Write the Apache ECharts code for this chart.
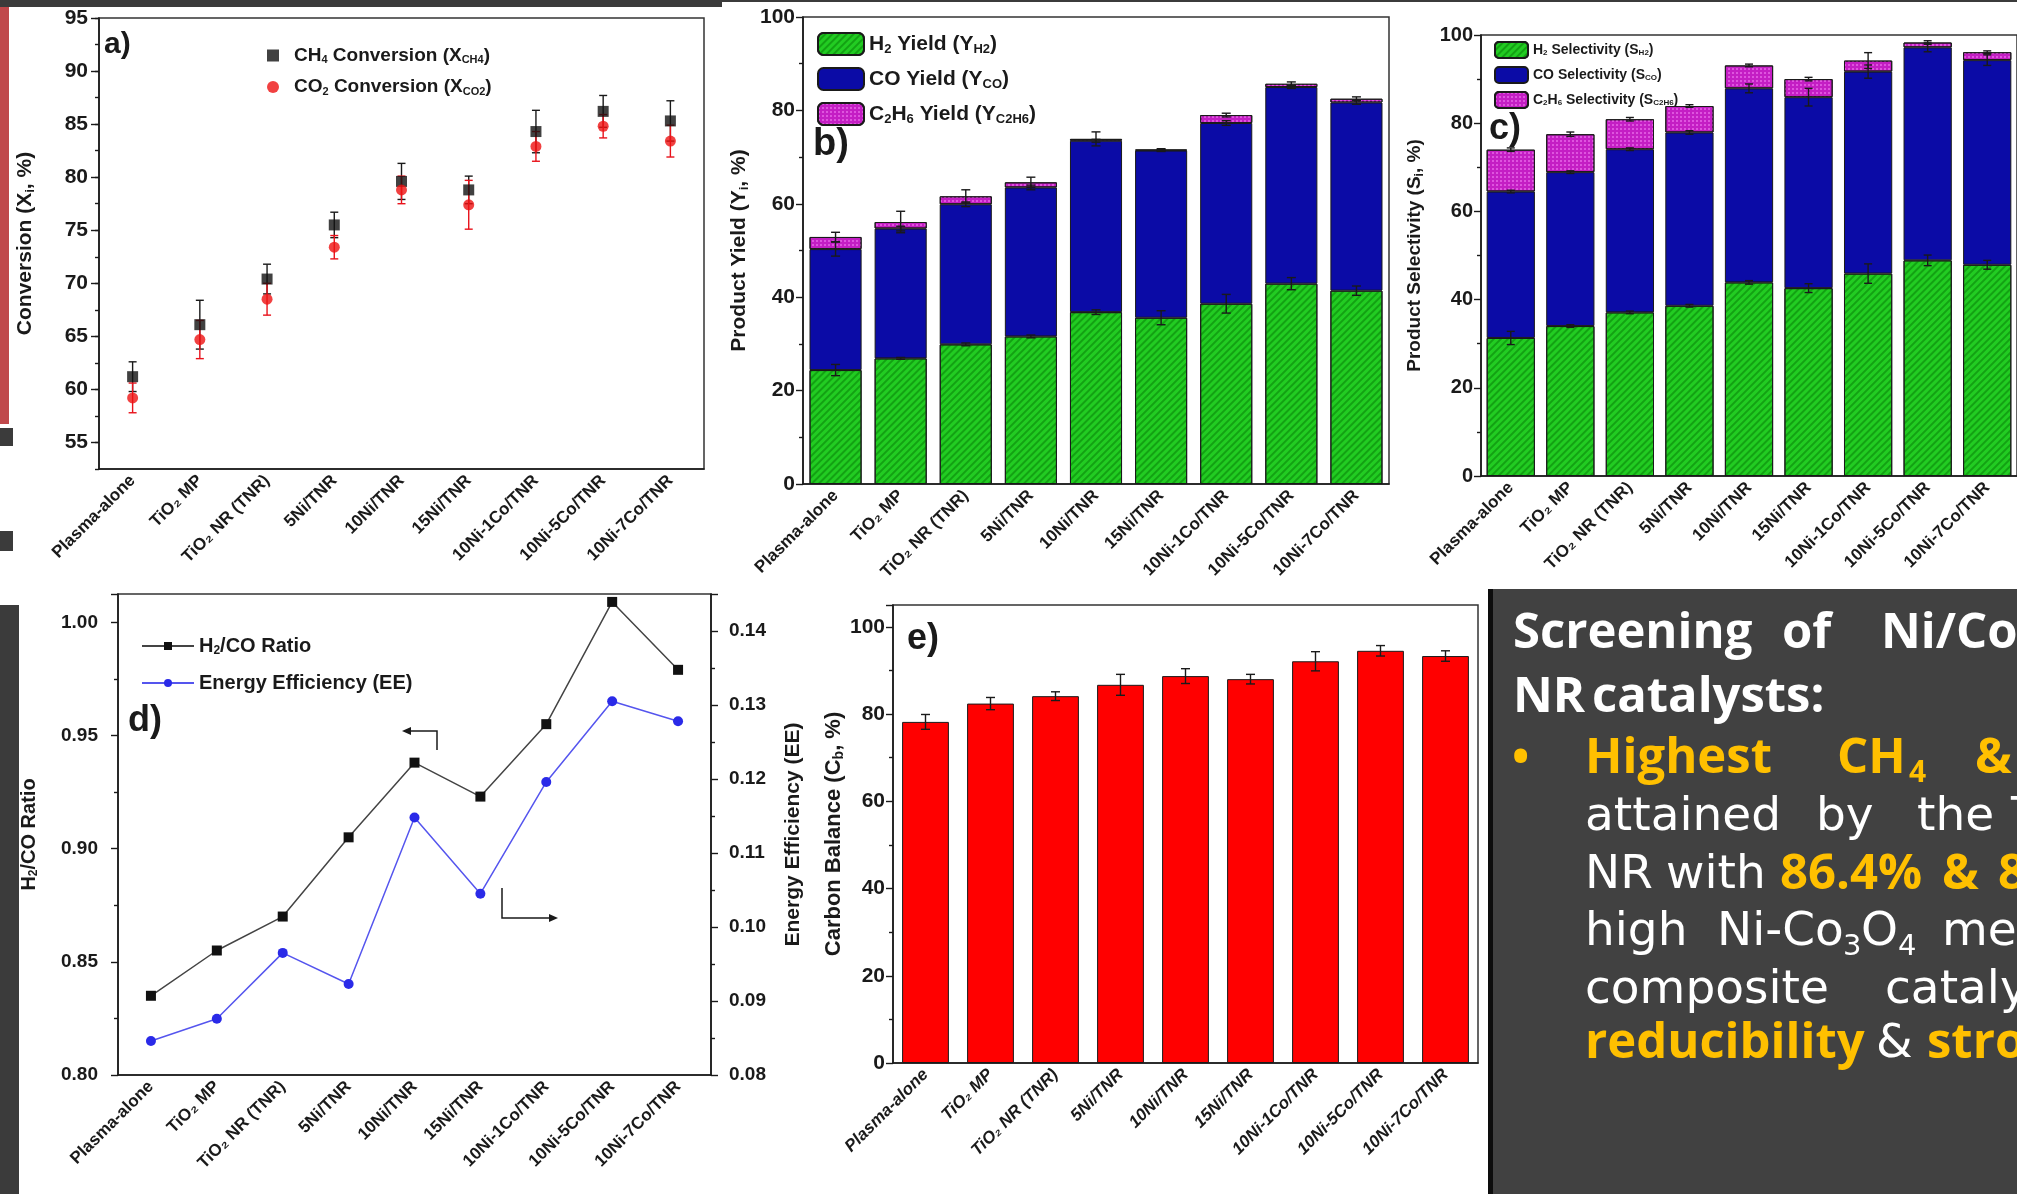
<!DOCTYPE html>
<html><head><meta charset="utf-8">
<script src="https://cdn.jsdelivr.net/npm/echarts@6/dist/echarts.min.js"></script>
<style>html,body{margin:0;padding:0;background:#fff;overflow:hidden}#c{width:2017px;height:1194px}</style>
</head><body><div id="c"></div>
<script>
// ---------------- data ----------------
const categories = ['Plasma-alone','TiO₂ MP','TiO₂ NR (TNR)','5Ni/TNR','10Ni/TNR','15Ni/TNR','10Ni-1Co/TNR','10Ni-5Co/TNR','10Ni-7Co/TNR'];
// (a) conversion
const ch4Conv    = [61.2, 66.1, 70.4, 75.5, 79.6, 78.8, 84.3, 86.2, 85.3];
const ch4ConvErr = [1.4, 2.3, 1.4, 1.2, 1.7, 1.3, 2.0, 1.5, 1.9];
const co2Conv    = [59.2, 64.7, 68.5, 73.4, 78.8, 77.4, 82.9, 84.8, 83.4];
const co2ConvErr = [1.4, 1.8, 1.5, 1.1, 1.3, 2.3, 1.4, 1.1, 1.5];
const convTicks  = [55, 60, 65, 70, 75, 80, 85, 90, 95];
// (b) product yield
const h2Yield      = [24.4, 26.9, 29.9, 31.6, 36.8, 35.6, 38.6, 42.9, 41.4];
const coYield      = [25.9, 27.8, 30.0, 31.9, 36.7, 35.8, 38.7, 42.1, 40.3];
const c2h6Yield    = [2.6, 1.4, 1.7, 1.1, 0.4, 0.2, 1.7, 0.7, 0.8];
const h2YieldErr   = [1.2, 0.2, 0.3, 0.3, 0.5, 1.5, 2.0, 1.3, 1.0];
const coYieldErr   = [1.5, 0.5, 0.5, 0.5, 0.3, 0.2, 0.5, 0.3, 0.4];
const c2h6YieldErr = [1.0, 2.3, 1.4, 1.1, 1.5, 0.2, 0.4, 0.4, 0.4];
// (c) product selectivity
const h2Sel      = [31.3, 34.0, 37.1, 38.6, 43.9, 42.6, 45.9, 48.9, 47.9];
const coSel      = [33.2, 34.9, 37.0, 39.3, 44.0, 43.3, 45.8, 48.3, 46.4];
const c2h6Sel    = [9.5, 8.6, 6.8, 6.0, 5.2, 4.1, 2.5, 1.1, 1.8];
const h2SelErr   = [1.5, 0.3, 0.3, 0.3, 0.4, 1.0, 2.2, 1.2, 1.0];
const coSelErr   = [0.3, 0.3, 0.3, 0.4, 1.0, 2.0, 1.5, 1.0, 1.2];
const c2h6SelErr = [0.4, 0.5, 0.4, 0.3, 0.3, 0.4, 1.8, 0.4, 0.3];
// (d) H2/CO ratio and energy efficiency
const h2coRatio = [0.835, 0.855, 0.870, 0.905, 0.938, 0.923, 0.955, 1.009, 0.979];
const energyEff = [0.0846, 0.0876, 0.0965, 0.0923, 0.1148, 0.1045, 0.1196, 0.1305, 0.1278];
// (e) carbon balance
const carbonBal    = [78.2, 82.4, 84.1, 86.7, 88.7, 88.0, 92.1, 94.5, 93.3];
const carbonBalErr = [1.7, 1.4, 1.0, 2.4, 1.7, 1.1, 2.2, 1.2, 1.2];

// ---------------- styling ----------------
const NARROW = '"Liberation Sans Narrow","Liberation Sans",Arial,sans-serif';
const SANS = '"Liberation Sans",Arial,sans-serif';
const INK = '#1a1a1a';
const GREEN = '#22cc22', BLUE = '#0b0ba6', MAGENTA = '#c41ec4', RED = '#ff0000';
const HATCH = {symbol:'rect', symbolSize:1, dashArrayX:[1,0], dashArrayY:[1.5,2.5], rotation:-Math.PI/4, color:'rgba(0,110,0,0.45)'};
const CROSS = {symbol:'rect', symbolSize:1, dashArrayX:[[2,2]], dashArrayY:[2,2], color:'rgba(255,150,255,0.45)'};
const axisLine = {show:true, onZero:false, lineStyle:{color:INK, width:1.6}};
const tickStyle = {color:INK, width:1.4};
const subRich = (fs) => ({s:{fontSize:fs, fontWeight:'bold', fontFamily:SANS, color:INK, padding:[Math.round(fs*0.8),0,0,0]}});

function xCat(gi, italic) {
  return {type:'category', gridIndex:gi, data:categories, boundaryGap:true,
    axisLine, axisTick:{alignWithLabel:true, length:6, lineStyle:tickStyle},
    axisLabel:{interval:0, rotate:45, margin:9, fontSize:17, fontWeight:'bold', fontStyle: italic?'italic':'normal', color:INK, fontFamily:NARROW},
    splitLine:{show:false}};
}
function yVal(gi, o) {
  return Object.assign({type:'value', gridIndex:gi, position:'left', axisLine,
    axisTick:{show:true, length:7, lineStyle:tickStyle},
    minorTick:{show:true, splitNumber:2, length:4, lineStyle:tickStyle},
    axisLabel:{fontSize:20, fontWeight:'bold', color:INK, fontFamily:NARROW, margin:9},
    splitLine:{show:false}, nameLocation:'middle'}, o);
}
function errSeries(xi, yi, base, err, color, capW) {
  return {type:'custom', xAxisIndex:xi, yAxisIndex:yi, z:6, silent:true,
    data: base.map((v,i)=>[i, v, err[i]]),
    encode:{x:0, y:1},
    renderItem: function(params, api){
      const x = api.value(0), y = api.value(1), e = api.value(2);
      const t = api.coord([x, y+e]), b = api.coord([x, y-e]);
      const w = capW/2, st = {stroke:color, lineWidth:1.4};
      return {type:'group', children:[
        {type:'line', shape:{x1:t[0],y1:t[1],x2:b[0],y2:b[1]}, style:st},
        {type:'line', shape:{x1:t[0]-w,y1:t[1],x2:t[0]+w,y2:t[1]}, style:st},
        {type:'line', shape:{x1:b[0]-w,y1:b[1],x2:b[0]+w,y2:b[1]}, style:st}
      ]};
    }};
}
const cum = (...arrs) => arrs[0].map((_,i)=>arrs.reduce((s,a)=>s+a[i],0));
const gridBox = {show:true, borderColor:'#333', borderWidth:1.5, backgroundColor:'#fff', containLabel:false};

// ---------------- text annotations ----------------
function word(t, x, base, fs, color, bold, family) {
  return {type:'text', x:x, y:base - 0.27*fs, z:60,
    style:{text:t, fill:color, font:(bold?'bold ':'')+fs+'px '+family, textAlign:'left', textVerticalAlign:'middle', align:'left', verticalAlign:'middle'}};
}
const OSB = '"Open Sans"', DJ = '"DejaVu Sans"';
const YEL = '#ffc000', WH = '#ffffff';
const panelWords = [
  word('Screening', 1513, 647, 49, WH, true, OSB),
  word('of', 1782, 647, 49, WH, true, OSB),
  word('Ni/Co', 1881, 647, 49, WH, true, OSB),
  word('NR', 1513, 711, 49, WH, true, OSB),
  word('catalysts:', 1592, 711, 49, WH, true, OSB),
  word('•', 1512, 772, 46, YEL, true, OSB),
  word('Highest', 1585, 772, 49, YEL, true, OSB),
  word('CH', 1837, 772, 49, YEL, true, OSB),
  word('4', 1909, 782, 30, YEL, true, OSB),
  word('&', 1975, 772, 49, YEL, true, OSB),
  word('attained', 1585, 830, 47, WH, false, DJ),
  word('by', 1816, 830, 47, WH, false, DJ),
  word('the', 1917, 830, 47, WH, false, DJ),
  word('T', 2011, 830, 47, WH, false, DJ),
  word('NR', 1585, 888, 47, WH, false, DJ),
  word('with', 1666, 888, 47, WH, false, DJ),
  word('86.4%', 1780, 888, 49, YEL, true, OSB),
  word('&', 1942, 888, 49, YEL, true, OSB),
  word('8', 1998, 888, 49, YEL, true, OSB),
  word('high', 1585, 945, 47, WH, false, DJ),
  word('Ni-Co', 1717, 945, 47, WH, false, DJ),
  word('3', 1843, 955, 29, WH, false, DJ),
  word('O', 1861, 945, 47, WH, false, DJ),
  word('4', 1898, 955, 29, WH, false, DJ),
  word('me', 1942, 945, 47, WH, false, DJ),
  word('composite', 1585, 1003, 47, WH, false, DJ),
  word('catalyst', 1885, 1003, 47, WH, false, DJ),
  word('reducibility', 1585, 1057, 49, YEL, true, OSB),
  word('&', 1876, 1057, 47, WH, false, DJ),
  word('strong', 1927, 1057, 49, YEL, true, OSB)
];
function label(t, x, y, fs) {
  return {type:'text', x:x, y:y, z:60, style:{text:t, fill:INK, font:'bold '+fs+'px '+SANS, textAlign:'left', textVerticalAlign:'top', align:'left', verticalAlign:'top'}};
}
const decor = [
  {type:'rect', z:1, shape:{x:0,y:0,width:722,height:7}, style:{fill:'#3b3b3b'}},
  {type:'rect', z:1, shape:{x:722,y:0,width:1295,height:2}, style:{fill:'#3b3b3b'}},
  {type:'rect', z:1, shape:{x:0,y:7,width:9,height:417}, style:{fill:'#c0484b'}},
  {type:'rect', z:1, shape:{x:0,y:428,width:13,height:18}, style:{fill:'#3b3b3b'}},
  {type:'rect', z:1, shape:{x:0,y:531,width:13,height:20}, style:{fill:'#3b3b3b'}},
  {type:'rect', z:1, shape:{x:0,y:605,width:19,height:589}, style:{fill:'#3b3b3b'}},
  {type:'rect', z:40, shape:{x:1490,y:589,width:527,height:605}, style:{fill:'#414141'}},
  {type:'rect', z:41, shape:{x:1488,y:589,width:5,height:605}, style:{fill:'#0d0d0d'}},
  label('a)', 104, 30, 30), label('b)', 813, 126, 38), label('c)', 1489, 111, 36),
  label('d)', 128, 703, 36), label('e)', 907, 621, 36),
  // arrows in (d)
  {type:'polyline', z:60, shape:{points:[[437,750],[437,731],[409,731]]}, style:{stroke:INK, lineWidth:1.5, fill:null}},
  {type:'polygon', z:60, shape:{points:[[402,731],[411,727],[411,735]]}, style:{fill:INK}},
  {type:'polyline', z:60, shape:{points:[[502,888],[502,918],[551,918]]}, style:{stroke:INK, lineWidth:1.5, fill:null}},
  {type:'polygon', z:60, shape:{points:[[558,918],[549,914],[549,922]]}, style:{fill:INK}}
];

// ---------------- option ----------------
const legendText = (fs) => ({fontSize:fs, fontWeight:'bold', fontFamily:SANS, color:INK, rich:subRich(Math.round(fs*0.6))});
const option = {
  animation:false,
  backgroundColor:'#ffffff',
  grid:[
    Object.assign({left:99, top:18, width:605, height:451}, gridBox),
    Object.assign({left:803, top:17, width:586, height:467}, gridBox),
    Object.assign({left:1481, top:35, width:556, height:441}, gridBox),
    Object.assign({left:118, top:594, width:593, height:481}, gridBox),
    Object.assign({left:893, top:605, width:585, height:458}, gridBox)
  ],
  xAxis:[xCat(0), xCat(1), xCat(2), xCat(3), xCat(4, true)],
  yAxis:[
    yVal(0, {min:52.5, max:95, minorTick:{show:false},
      axisTick:{show:true, length:8, lineStyle:tickStyle, customValues:convTicks},
      axisLabel:{fontSize:21, fontWeight:'bold', color:INK, fontFamily:NARROW, margin:11, customValues:convTicks},
      name:'Conversion (X{s|i}, %)', nameGap:62,
      nameTextStyle:{fontSize:21, fontWeight:'bold', fontFamily:SANS, color:INK, rich:subRich(13)}}),
    {type:'value', gridIndex:0, position:'left', offset:0, min:52.5, max:95, interval:2.5, axisLine:{show:false},
      axisTick:{show:true, length:4, lineStyle:tickStyle}, axisLabel:{show:false}, splitLine:{show:false}},
    yVal(1, {min:0, max:100, interval:20, name:'Product Yield (Y{s|i}, %)', nameGap:52,
      axisLabel:{fontSize:21, fontWeight:'bold', color:INK, fontFamily:NARROW, margin:8},
      nameTextStyle:{fontSize:21, fontWeight:'bold', fontFamily:SANS, color:INK, rich:subRich(13)}}),
    yVal(2, {min:0, max:100, interval:20, name:'Product Selectivity (S{s|i}, %)', nameGap:55,
      axisLabel:{fontSize:20, fontWeight:'bold', color:INK, fontFamily:NARROW, margin:8},
      nameTextStyle:{fontSize:19, fontWeight:'bold', fontFamily:SANS, color:INK, rich:subRich(12)}}),
    yVal(3, {min:0.8, max:1.0125, interval:0.05, name:'H{s|2}/CO Ratio', nameGap:78,
      axisLabel:{fontSize:19, fontWeight:'bold', color:INK, fontFamily:NARROW, margin:20, showMaxLabel:false, formatter:v=>v.toFixed(2)},
      nameTextStyle:{fontSize:20, fontWeight:'bold', fontFamily:SANS, color:INK, rich:subRich(12)}}),
    yVal(3, {position:'right', min:0.08, max:0.145, interval:0.01, name:'Energy Efficiency (EE)', nameGap:72,
      axisLabel:{fontSize:19, fontWeight:'bold', color:INK, fontFamily:NARROW, margin:18, showMaxLabel:false, formatter:v=>v.toFixed(2)},
      nameTextStyle:{fontSize:21, fontWeight:'bold', fontFamily:SANS, color:INK}}),
    yVal(4, {min:0, max:105, interval:20, name:'Carbon Balance (C{s|b}, %)', nameGap:46,
      axisLabel:{fontSize:21, fontWeight:'bold', color:INK, fontFamily:NARROW, margin:8, showMaxLabel:false},
      nameTextStyle:{fontSize:22, fontWeight:'bold', fontFamily:SANS, color:INK, rich:subRich(14)}})
  ],
  legend:[
    {left:262, top:41, orient:'vertical', itemGap:12, itemWidth:12, itemHeight:12, selectedMode:false,
     data:['CH4 Conversion','CO2 Conversion'],
     formatter:n => n==='CH4 Conversion' ? 'CH{s|4} Conversion (X{s|CH4})' : 'CO{s|2} Conversion (X{s|CO2})',
     textStyle:Object.assign(legendText(19), {fontFamily:NARROW, padding:[0,0,0,10]})},
    {left:812, top:27, orient:'vertical', itemGap:11, itemWidth:46, itemHeight:22, selectedMode:false,
     data:['H2 Yield','CO Yield','C2H6 Yield'],
     formatter:n => ({'H2 Yield':'H{s|2} Yield (Y{s|H2})','CO Yield':'CO Yield (Y{s|CO})','C2H6 Yield':'C{s|2}H{s|6} Yield (Y{s|C2H6})'})[n],
     textStyle:Object.assign(legendText(21), {fontFamily:NARROW})},
    {left:1489, top:36, orient:'vertical', itemGap:7, itemWidth:33, itemHeight:16, selectedMode:false,
     data:['H2 Selectivity','CO Selectivity','C2H6 Selectivity'],
     formatter:n => ({'H2 Selectivity':'H{s|2} Selectivity (S{s|H2})','CO Selectivity':'CO Selectivity (S{s|CO})','C2H6 Selectivity':'C{s|2}H{s|6} Selectivity (S{s|C2H6})'})[n],
     textStyle:Object.assign(legendText(14), {fontFamily:NARROW})},
    {left:136, top:631, orient:'vertical', itemGap:16, itemWidth:52, itemHeight:10, selectedMode:false,
     data:['H2/CO Ratio','Energy Efficiency (EE)'],
     formatter:n => n==='H2/CO Ratio' ? 'H{s|2}/CO Ratio' : 'Energy Efficiency (EE)',
     textStyle:legendText(20)}
  ],
  graphic:{elements: decor.concat(panelWords)},
  series:[
    // (a)
    errSeries(0, 0, ch4Conv, ch4ConvErr, INK, 8),
    errSeries(0, 0, co2Conv, co2ConvErr, '#e8121b', 8),
    {type:'scatter', name:'CH4 Conversion', xAxisIndex:0, yAxisIndex:0, data:ch4Conv, symbol:'rect', symbolSize:11, itemStyle:{color:'#111'}, z:7},
    {type:'scatter', name:'CO2 Conversion', xAxisIndex:0, yAxisIndex:0, data:co2Conv, symbol:'circle', symbolSize:11, itemStyle:{color:'#ee1111'}, z:8},
    // (b)
    {type:'bar', name:'H2 Yield', xAxisIndex:1, yAxisIndex:2, stack:'y', data:h2Yield, barCategoryGap:'20%', itemStyle:{color:GREEN, borderColor:INK, borderWidth:1, decal:HATCH}},
    {type:'bar', name:'CO Yield', xAxisIndex:1, yAxisIndex:2, stack:'y', data:coYield, itemStyle:{color:BLUE, borderColor:INK, borderWidth:1}},
    {type:'bar', name:'C2H6 Yield', xAxisIndex:1, yAxisIndex:2, stack:'y', data:c2h6Yield, itemStyle:{color:MAGENTA, borderColor:INK, borderWidth:1, decal:CROSS}},
    errSeries(1, 2, h2Yield, h2YieldErr, INK, 9),
    errSeries(1, 2, cum(h2Yield, coYield), coYieldErr, INK, 9),
    errSeries(1, 2, cum(h2Yield, coYield, c2h6Yield), c2h6YieldErr, INK, 9),
    // (c)
    {type:'bar', name:'H2 Selectivity', xAxisIndex:2, yAxisIndex:3, stack:'s', data:h2Sel, barCategoryGap:'19%', itemStyle:{color:GREEN, borderColor:INK, borderWidth:1, decal:HATCH}},
    {type:'bar', name:'CO Selectivity', xAxisIndex:2, yAxisIndex:3, stack:'s', data:coSel, itemStyle:{color:BLUE, borderColor:INK, borderWidth:1}},
    {type:'bar', name:'C2H6 Selectivity', xAxisIndex:2, yAxisIndex:3, stack:'s', data:c2h6Sel, itemStyle:{color:MAGENTA, borderColor:INK, borderWidth:1, decal:CROSS}},
    errSeries(2, 3, h2Sel, h2SelErr, INK, 8),
    errSeries(2, 3, cum(h2Sel, coSel), coSelErr, INK, 8),
    errSeries(2, 3, cum(h2Sel, coSel, c2h6Sel), c2h6SelErr, INK, 8),
    // (d)
    {type:'line', name:'H2/CO Ratio', xAxisIndex:3, yAxisIndex:4, data:h2coRatio, symbol:'rect', symbolSize:10,
     itemStyle:{color:'#111'}, lineStyle:{color:'#444', width:1.5}, z:5},
    {type:'line', name:'Energy Efficiency (EE)', xAxisIndex:3, yAxisIndex:5, data:energyEff, symbol:'circle', symbolSize:10,
     itemStyle:{color:'#2a2ae8'}, lineStyle:{color:'#5555ee', width:1.5}, z:5},
    // (e)
    {type:'bar', name:'Carbon Balance', xAxisIndex:4, yAxisIndex:6, data:carbonBal, barCategoryGap:'28%', itemStyle:{color:RED, borderColor:INK, borderWidth:1}},
    errSeries(4, 6, carbonBal, carbonBalErr, INK, 9)
  ]
};
const chart = echarts.init(document.getElementById('c'), null, {renderer:'canvas', width:2017, height:1194});
chart.setOption(option);
</script>
</body></html>
